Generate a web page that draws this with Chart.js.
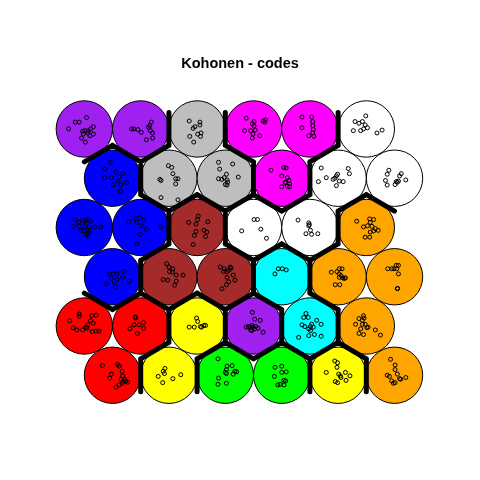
<!DOCTYPE html>
<html>
<head>
<meta charset="utf-8">
<script src="https://cdn.jsdelivr.net/npm/chart.js@4/dist/chart.umd.min.js"></script>
<style>
html,body{margin:0;padding:0;background:#ffffff;}
#c{display:block;}
</style>
</head>
<body>
<canvas id="c" width="480" height="480"></canvas>
<script>
// Cluster label of each map unit, top row first (6 x 6 hexagonal SOM grid)
const clusterRows = [
  ['purple','purple','gray','magenta','magenta','white'],
  ['blue','gray','gray','magenta','white','white'],
  ['blue','blue','brown','white','white','orange'],
  ['blue','brown','brown','cyan','orange','orange'],
  ['red','red','yellow','purple','cyan','orange'],
  ['red','yellow','green','green','yellow','orange']
];
const clusterColors = {
  purple:'#A020F0', gray:'#BEBEBE', magenta:'#FF00FF', white:'#FFFFFF',
  blue:'#0000FF', brown:'#A52A2A', orange:'#FFA500', cyan:'#00FFFF',
  red:'#FF0000', yellow:'#FFFF00', green:'#00FF00'
};
// Mapped observations: offsets (map units) from each unit centre, top row first
const row1Points = [
  [[.04,.20],[-.16,.12],[-.09,.12],[-.28,0],[.16,.04],[.11,0],[.07,-.03],[.01,-.03],[-.03,-.04],[-.02,-.09],[.06,-.07],[.16,-.09],[-.05,-.16],[.02,-.23],[.10,-.12]],
  [[.19,.12],[.16,.06],[-.16,0],[-.12,0],[-.05,-.01],[.01,-.06],[.14,.03],[.17,-.03],[.21,-.07],[.10,-.19],[.21,-.16]],
  [[-.14,.14],[.05,.12],[.05,.07],[-.04,.04],[-.07,.01],[.07,-.07],[.01,-.09],[.06,-.13],[-.13,-.13],[-.06,-.23]],
  [[-.13,.19],[.01,.13],[-.02,.09],[.17,.14],[.21,.16],[.20,.12],[-.16,-.03],[-.05,-.03],[.03,-.02],[.01,.05],[-.01,-.09],[.11,-.12],[-.02,-.16]],
  [[-.14,.21],[.03,.21],[.05,.13],[.05,.06],[-.14,.02],[.06,-.01],[.05,-.07],[-.02,-.12],[.07,-.13]],
  [[-.01,.23],[-.20,.13],[-.13,.10],[-.07,.13],[-.02,.07],[-.05,0],[.02,.02],[-.10,-.03],[-.23,-.03],[.19,-.07],[.28,-.02]]
];
const row2Points = [
  [[-.04,.28],[-.14,.16],[.06,.11],[.18,.08],[-.14,.01],[-.02,.01],[.12,.02],[.10,-.05],[.25,-.08],[.15,-.12],[.01,-.12],[.14,-.23]],
  [[-.01,.22],[.05,.19],[.07,.08],[-.16,-.02],[-.14,-.04],[.12,-.01],[.16,-.01],[.12,-.10],[-.14,-.34],[.16,-.38]],
  [[-.12,.28],[.13,.25],[-.10,.16],[.23,.02],[.02,.07],[-.12,-.01],[-.06,-.02],[-.02,.01],[.03,-.03],[.04,-.07],[0,-.11],[.03,-.12]],
  [[-.19,.14],[.04,.19],[.08,.18],[0,.04],[.10,.01],[.13,-.04],[.07,-.07],[.06,-.08],[.14,-.10],[.10,-.14],[0,-.15],[.14,-.15]],
  [[-.30,.18],[.18,.17],[.20,.08],[-.01,.07],[-.03,.04],[-.06,0],[-.09,-.02],[-.21,.01],[-.35,-.06],[.02,-.05],[.09,-.06],[-.03,-.13]],
  [[-.10,.14],[-.13,.07],[.12,.08],[.09,.04],[-.16,-.04],[.03,-.06],[.07,-.05],[.05,-.07],[.20,-.03],[-.13,-.12],[.01,-.11]]
];
const row3Points = [
  [[-.17,.14],[-.03,.13],[.02,.12],[.06,.14],[.11,.11],[-.10,.09],[-.19,.02],[-.09,.02],[.01,.03],[.09,.01],[.19,.01],[.29,.01],[-.06,-.05],[-.01,-.06],[.06,-.05],[.09,-.08],[.04,-.12],[.06,-.15]],
  [[-.09,.15],[-.02,.17],[.05,.13],[-.21,.10],[-.06,.09],[.02,.03],[.36,.01],[.10,-.03],[-.01,-.12],[-.07,-.28]],
  [[.02,.20],[.01,.14],[-.15,.09],[-.02,.06],[.19,.10],[.12,-.05],[-.02,-.07],[.17,-.08],[-.05,-.14],[.15,-.16],[-.07,-.30]],
  [[.01,.14],[.07,.14],[-.21,-.06],[.13,-.03],[.23,-.19]],
  [[-.21,.13],[-.02,.08],[-.01,.05],[-.02,.03],[.01,-.05],[-.07,-.11],[.03,-.12],[.14,-.11]],
  [[-.17,.11],[.06,.15],[.13,.14],[.07,.09],[.02,.03],[-.05,.01],[.10,.02],[.16,-.02],[.21,-.05],[.13,-.06],[.07,-.08],[-.02,-.17],[.06,-.17]]
];
const row4Points = [
  [[-.06,.05],[.02,.05],[.08,.05],[.21,.09],[.18,-.01],[-.02,-.03],[.03,-.08],[.08,-.05],[.30,-.08],[-.11,-.12],[.05,-.17]],
  [[-.04,.23],[0,.17],[.07,.14],[.01,.09],[.06,.08],[.13,.03],[.25,.03],[-.10,-.05],[-.02,-.06],[.13,-.08],[.10,-.15]],
  [[-.09,.17],[-.02,.14],[.09,.17],[.10,.15],[.06,.11],[-.03,.09],[.03,.09],[.14,.03],[.03,-.01],[.17,-.06],[.06,-.09],[.02,-.14],[-.06,-.21]],
  [[-.06,.14],[.01,.14],[.08,.12],[-.12,.05]],
  [[.02,.14],[.07,.14],[-.12,.08],[-.02,.09],[.02,.05],[.05,.02],[.08,-.02],[.11,-.03],[.13,-.02],[.02,-.01],[-.05,-.14],[.03,-.14]],
  [[.03,.20],[.07,.20],[-.12,.14],[-.05,.14],[-.01,.14],[.04,.14],[.07,.05],[.05,-.21],[.055,-.205]]
];
const row5Points = [
  [[-.09,.21],[-.09,.17],[.13,.18],[.21,.19],[-.26,.09],[.11,.09],[.16,.05],[.06,.02],[.03,-.02],[.05,-.04],[-.20,-.03],[-.13,-.07],[-.03,-.07],[.14,-.10],[.21,-.09],[.26,-.09]],
  [[-.10,.16],[-.09,.14],[.05,.06],[-.12,.02],[-.03,.02],[-.19,-.05],[.05,-.04],[-.06,-.13]],
  [[-.01,.14],[.01,.08],[-.14,-.02],[-.05,-.02],[.06,-.01],[.12,.01],[.15,.01],[.08,-.02]],
  [[-.02,.24],[.02,.12],[.12,.10],[-.13,-.02],[-.09,-.01],[-.06,-.02],[-.03,.01],[-.01,-.02],[.04,-.01],[.08,-.04],[-.03,-.08],[.02,-.05],[.17,-.11],[-.05,-.07]],
  [[-.07,.22],[-.11,.15],[-.03,.15],[.12,.10],[.20,.03],[-.14,.02],[-.09,-.01],[.03,.03],[.01,-.01],[-.02,-.05],[.01,-.08],[.08,-.15],[.20,-.18],[-.02,-.17],[-.20,-.20],[.06,-.02]],
  [[-.05,.18],[-.04,.14],[-.13,.13],[-.07,.10],[-.19,.03],[-.07,.03],[-.02,.03],[.03,-.02],[.01,-.03],[-.10,-.05],[-.13,-.13],[-.05,-.15],[.16,-.07],[.25,-.16]]
];
const row6Points = [
  [[-.18,.17],[.09,.19],[.12,.16],[.17,.07],[-.02,.02],[.18,-.01],[-.05,-.05],[.15,-.07],[.23,-.10],[.27,-.12],[.17,-.14],[.12,-.17],[.06,-.21],[.21,-.07],[.19,-.11]],
  [[-.07,.12],[-.10,.07],[-.08,.03],[.21,.01],[-.19,-.02],[.07,-.06],[-.11,-.13]],
  [[-.13,.29],[.03,.16],[.12,.17],[.02,.10],[.17,.07],[.20,.06],[0,.05],[.02,.03],[.14,.02],[-.12,-.05],[.02,-.14],[-.13,-.16]],
  [[-.12,.14],[0,.16],[.08,.06],[0,.05],[-.13,-.02],[.04,-.09],[.07,-.10],[-.07,-.17],[-.03,-.16],[.04,-.17]],
  [[-.06,.25],[-.01,.22],[-.02,.14],[-.21,.05],[.01,.02],[.04,-.01],[.13,.05],[.21,-.01],[.05,-.04],[-.05,-.11],[-.01,-.13],[.14,-.09]],
  [[-.07,.28],[.01,.18],[.01,.10],[.05,.02],[-.13,0],[-.09,-.02],[.09,-.06],[.20,-.04],[-.05,-.10],[-.02,-.14],[.01,-.13],[.11,-.07]]
];
const titleText = 'Kohonen - codes';

// ---- build unit table from the hexagonal grid topology ----
const pointRows = [row1Points,row2Points,row3Points,row4Points,row5Points,row6Points];
const nRows = clusterRows.length;
const units = [];
clusterRows.forEach((row, i) => {
  const r = nRows - 1 - i;               // grid row counted from the bottom
  row.forEach((cl, c) => {
    units.push({
      x: c + 1 + (r % 2 === 0 ? 0.5 : 0),
      y: r * Math.sqrt(3) / 2,
      cluster: cl,
      pts: pointRows[i][c]
    });
  });
});
const circleData = units.map(u => ({x: u.x, y: u.y}));
const circleColors = units.map(u => clusterColors[u.cluster]);
const obsData = [];
units.forEach(u => u.pts.forEach(p => obsData.push({x: u.x + p[0], y: u.y + p[1]})));

// cluster boundaries: hexagon edges shared by neighbouring units of different clusters
const boundaryData = [];
const half = 0.5 / Math.sqrt(3);
for (let a = 0; a < units.length; a++) {
  for (let b = a + 1; b < units.length; b++) {
    const dx = units[b].x - units[a].x, dy = units[b].y - units[a].y;
    const d = Math.hypot(dx, dy);
    if (d < 1.01 && units[a].cluster !== units[b].cluster) {
      const mx = (units[a].x + units[b].x) / 2, my = (units[a].y + units[b].y) / 2;
      const px = -dy / d, py = dx / d;
      boundaryData.push({x: mx + px * half, y: my + py * half});
      boundaryData.push({x: mx - px * half, y: my - py * half});
      boundaryData.push({x: null, y: null});
    }
  }
}

const unitRadius = (ctx) => {
  const s = ctx.chart.scales.x;
  return s.getPixelForValue(0.5) - s.getPixelForValue(0);
};

new Chart(document.getElementById('c'), {
  type: 'scatter',
  data: {
    datasets: [
      {
        label: 'boundaries', data: boundaryData, showLine: true, spanGaps: false,
        borderColor: '#000000', borderWidth: 5, borderCapStyle: 'round', borderJoinStyle: 'round',
        pointRadius: 0, order: 0
      },
      {
        label: 'observations', data: obsData,
        pointRadius: 2.0, pointBorderWidth: 1, borderColor: '#000000',
        backgroundColor: 'rgba(0,0,0,0)', pointBackgroundColor: 'rgba(0,0,0,0)', order: 1
      },
      {
        label: 'units', data: circleData, pointRadius: unitRadius,
        pointBackgroundColor: circleColors, backgroundColor: circleColors,
        borderColor: '#000000', pointBorderColor: '#000000', pointBorderWidth: 1, order: 2
      }
    ]
  },
  options: {
    responsive: false,
    animation: false,
    events: [],
    layout: { padding: 0 },
    plugins: {
      legend: { display: false },
      tooltip: { enabled: false },
      title: {
        display: true, text: titleText, color: '#000000',
        font: { family: 'Liberation Sans, Arial, sans-serif', size: 14.5, weight: 'bold', lineHeight: 1.2 },
        padding: { top: 55.5, bottom: 7.1 }
      }
    },
    scales: {
      x: { type: 'linear', display: false, min: -0.40625, max: 7.92708 },
      y: { type: 'linear', display: false, min: -1.75347, max: 5.19097 }
    }
  }
});
</script>
</body>
</html>
